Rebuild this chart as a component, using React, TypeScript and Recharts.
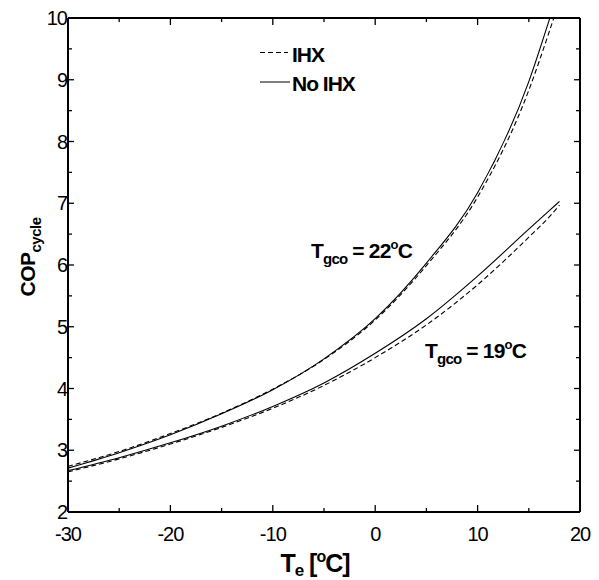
import React from 'react';
import { LineChart, Line, XAxis, YAxis, Customized } from 'recharts';

const temps = [-30, -25, -20, -15, -10, -5, 0, 5, 10, 15, 17, 18];
const cop22NoIhx = [2.71, 2.96, 3.25, 3.59, 3.98, 4.48, 5.13, 6.03, 7.17, 8.97, 9.97, 10.5];
const cop22Ihx = [2.74, 2.98, 3.27, 3.6, 3.99, 4.47, 5.11, 5.99, 7.1, 8.83, 9.78, 10.28];
const cop19NoIhx = [2.67, 2.88, 3.12, 3.39, 3.71, 4.09, 4.57, 5.13, 5.82, 6.58, 6.88, 7.03];
const cop19Ihx = [2.65, 2.86, 3.1, 3.37, 3.68, 4.05, 4.5, 5.03, 5.68, 6.45, 6.78, 6.97];

const xTicks = [-30, -25, -20, -15, -10, -5, 0, 5, 10, 15, 20];
const yTicks = [2, 2.5, 3, 3.5, 4, 4.5, 5, 5.5, 6, 6.5, 7, 7.5, 8, 8.5, 9, 9.5, 10];

const data = temps.map((t, i) => ({
  t,
  a: cop22NoIhx[i],
  b: cop22Ihx[i],
  c: cop19NoIhx[i],
  d: cop19Ihx[i],
}));

const FONT = '"Liberation Sans", Arial, Helvetica, sans-serif';

const BottomTick = (p: any) => {
  const { x, y, payload } = p;
  const v = payload.value;
  const major = v % 10 === 0;
  return (
    <g>
      <line x1={x} x2={x} y1={y} y2={y - (major ? 7 : 4)} stroke="#000" strokeWidth={1.3} />
      {major && (
        <text x={x} y={y + 29} textAnchor="middle" fontFamily={FONT} fontSize={20} letterSpacing={-1} fill="#000">
          {v}
        </text>
      )}
    </g>
  );
};

const TopTick = (p: any) => {
  const { x, y, payload } = p;
  const major = payload.value % 10 === 0;
  return <line x1={x} x2={x} y1={y} y2={y + (major ? 7 : 4)} stroke="#000" strokeWidth={1.3} />;
};

const LeftTick = (p: any) => {
  const { x, y, payload } = p;
  const v = payload.value;
  const major = Number.isInteger(v);
  return (
    <g>
      <line x1={x} x2={x + (major ? 6 : 4)} y1={y} y2={y} stroke="#000" strokeWidth={1.3} />
      {major && (
        <text x={x - 1} y={y} dy="0.36em" textAnchor="end" fontFamily={FONT} fontSize={20} letterSpacing={-1} fill="#000">
          {v}
        </text>
      )}
    </g>
  );
};

const RightTick = (p: any) => {
  const { x, y, payload } = p;
  const major = Number.isInteger(payload.value);
  return <line x1={x} x2={x - (major ? 6 : 4)} y1={y} y2={y} stroke="#000" strokeWidth={1.3} />;
};

const Decorations = () => (
  <g fontFamily={FONT} fontWeight="bold" fill="#000">
    {/* legend */}
    <line x1={260} x2={288} y1={52.5} y2={52.5} stroke="#000" strokeWidth={1} strokeDasharray="5 3" />
    <text x={292} y={62} fontSize={21} letterSpacing={-1}>IHX</text>
    <line x1={260} x2={290} y1={82} y2={82} stroke="#000" strokeWidth={1} />
    <text x={292} y={91} fontSize={21} letterSpacing={-1}>No IHX</text>

    {/* annotations */}
    <text x={311} y={258} fontSize={21} letterSpacing={-0.8}>
      <tspan>T</tspan>
      <tspan dy={6} fontSize={15}>gco</tspan>
      <tspan dy={-6}> = 22</tspan>
      <tspan dy={-9} fontSize={13}>o</tspan>
      <tspan dy={9}>C</tspan>
    </text>
    <text x={425} y={358} fontSize={21} letterSpacing={-0.8}>
      <tspan>T</tspan>
      <tspan dy={6} fontSize={15}>gco</tspan>
      <tspan dy={-6}> = 19</tspan>
      <tspan dy={-9} fontSize={13}>o</tspan>
      <tspan dy={9}>C</tspan>
    </text>

    {/* x title */}
    <text x={315} y={572} textAnchor="middle" fontSize={25} letterSpacing={-1}>
      <tspan>T</tspan>
      <tspan dy={4} fontSize={17}>e</tspan>
      <tspan dy={-4}> [</tspan>
      <tspan dy={-10} fontSize={16}>o</tspan>
      <tspan dy={10}>C]</tspan>
    </text>

    {/* y title */}
    <text x={0} y={0} transform="translate(35,257) rotate(-90)" textAnchor="middle" fontSize={21} letterSpacing={-0.5}>
      <tspan>COP</tspan>
      <tspan dy={6} fontSize={15}>cycle</tspan>
    </text>
  </g>
);

export default function App() {
  return (
    <div style={{ position: 'absolute', left: 0, top: 0, width: 599, height: 580, background: '#fff' }}>
      <LineChart width={599} height={580} data={data} margin={{ top: 0, right: 0, bottom: 0, left: 0 }}>
        <XAxis
          xAxisId="b"
          dataKey="t"
          type="number"
          domain={[-30, 20]}
          ticks={xTicks}
          allowDataOverflow
          orientation="bottom"
          height={68}
          tickSize={0}
          tickMargin={0}
          axisLine={{ stroke: '#000', strokeWidth: 2 }}
          tickLine={false}
          tick={<BottomTick />}
          interval={0}
        />
        <XAxis
          xAxisId="t"
          dataKey="t"
          type="number"
          domain={[-30, 20]}
          ticks={xTicks}
          allowDataOverflow
          orientation="top"
          height={18}
          tickSize={0}
          tickMargin={0}
          axisLine={{ stroke: '#000', strokeWidth: 2 }}
          tickLine={false}
          tick={<TopTick />}
          interval={0}
        />
        <YAxis
          yAxisId="l"
          type="number"
          domain={[2, 10]}
          ticks={yTicks}
          allowDataOverflow
          orientation="left"
          width={68}
          tickSize={0}
          tickMargin={0}
          axisLine={{ stroke: '#000', strokeWidth: 2 }}
          tickLine={false}
          tick={<LeftTick />}
          interval={0}
        />
        <YAxis
          yAxisId="r"
          type="number"
          domain={[2, 10]}
          ticks={yTicks}
          allowDataOverflow
          orientation="right"
          width={19}
          tickSize={0}
          tickMargin={0}
          axisLine={{ stroke: '#000', strokeWidth: 2 }}
          tickLine={false}
          tick={<RightTick />}
          interval={0}
        />
        <Line xAxisId="b" yAxisId="l" dataKey="a" type="monotone" stroke="#000" strokeWidth={1.1} dot={false} isAnimationActive={false} />
        <Line xAxisId="b" yAxisId="l" dataKey="b" type="monotone" stroke="#000" strokeWidth={1.1} strokeDasharray="5 3" dot={false} isAnimationActive={false} />
        <Line xAxisId="b" yAxisId="l" dataKey="c" type="monotone" stroke="#000" strokeWidth={1.1} dot={false} isAnimationActive={false} />
        <Line xAxisId="b" yAxisId="l" dataKey="d" type="monotone" stroke="#000" strokeWidth={1.1} strokeDasharray="5 3" dot={false} isAnimationActive={false} />
        <Customized component={Decorations} />
      </LineChart>
    </div>
  );
}
